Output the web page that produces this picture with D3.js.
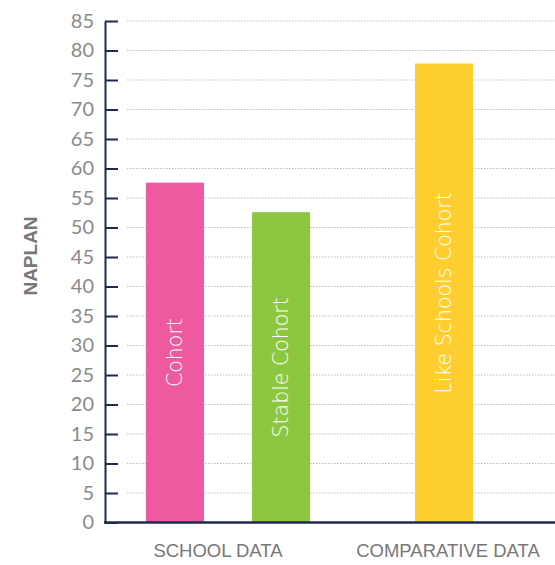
<!DOCTYPE html>
<html>
<head>
<meta charset="utf-8">
<script src="https://cdn.jsdelivr.net/npm/d3@7"></script>
<style>
  html, body { margin: 0; padding: 0; background: #fff; }
  svg { display: block; }
</style>
</head>
<body>
<svg id="chart" width="555" height="565"></svg>
<script>
// ---- data ----
const groups = ["SCHOOL DATA", "COMPARATIVE DATA"];
const series = ["Cohort", "Stable Cohort", "Like Schools Cohort"];
const seriesGroup = ["SCHOOL DATA", "SCHOOL DATA", "COMPARATIVE DATA"];
const values = [57.6, 52.6, 77.8];
const colors = ["#EE5A9F", "#8DC63F", "#FECE30"];
const yTickValues = [0, 5, 10, 15, 20, 25, 30, 35, 40, 45, 50, 55, 60, 65, 70, 75, 80, 85];
const yTitle = "NAPLAN";

// ---- layout ----
const svg = d3.select("#chart");
const axisX = 105, baseY = 522.5, topY = 21, rightX = 555;
const navy = "#1f2a50";

const y = d3.scaleLinear().domain([0, 85]).range([baseY, topY]);
const x0 = d3.scaleBand().domain(groups).range([103, 563]);

const innerScales = {};
groups.forEach(g => {
  const members = series.filter((s, i) => seriesGroup[i] === g);
  innerScales[g] = d3.scaleBand().domain(members).range([0, x0.bandwidth()])
    .paddingInner(0.453).paddingOuter(0.311).align(members.length > 1 ? 0.652 : 0.467);
});
const barW = d3.min(groups.map(g => innerScales[g].domain().length > 1 ? innerScales[g].bandwidth() : Infinity));
const barCenter = i => {
  const g = seriesGroup[i], sc = innerScales[g];
  return x0(g) + sc(series[i]) + sc.bandwidth() / 2;
};

// gridlines
svg.append("g").selectAll("line")
  .data(yTickValues.filter(v => v > 0))
  .join("line")
  .attr("x1", 127).attr("x2", rightX)
  .attr("y1", d => y(d)).attr("y2", d => y(d))
  .attr("stroke", "#bdbdbd").attr("stroke-width", 1)
  .attr("stroke-dasharray", "1.5,1.5");

// bars
const data = series.map((s, i) => ({ s, v: values[i], c: colors[i], i }));
svg.append("g").selectAll("rect")
  .data(data)
  .join("rect")
  .attr("x", d => barCenter(d.i) - barW / 2)
  .attr("width", barW)
  .attr("y", d => y(d.v))
  .attr("height", d => y(0) - y(d.v))
  .attr("fill", d => d.c);

// bar labels
svg.append("g").selectAll("text")
  .data(data)
  .join("text")
  .attr("transform", d => `translate(${barCenter(d.i)},${(y(d.v) + y(0)) / 2}) rotate(-90)`)
  .attr("text-anchor", "middle")
  .attr("dominant-baseline", "central")
  .attr("fill", "#fff")
  .attr("font-family", "'DejaVu Sans', sans-serif")
  .attr("font-weight", 200)
  .attr("font-size", 20.5)
  .text(d => d.s);

// y axis
const yAxis = d3.axisLeft(y).tickValues(yTickValues).tickSize(-13).tickSizeOuter(0).tickPadding(11);
const gy = svg.append("g").attr("transform", `translate(${axisX},0)`).call(yAxis);
gy.select(".domain").attr("stroke", navy).attr("stroke-width", 2);
gy.selectAll(".tick line").attr("stroke", navy).attr("stroke-width", 2);
gy.selectAll(".tick text")
  .attr("fill", "#8a8a8a")
  .attr("font-family", "Lato, sans-serif")
  .attr("font-size", 20);

// bottom baseline
svg.append("line")
  .attr("x1", axisX - 1).attr("x2", rightX)
  .attr("y1", y(0)).attr("y2", y(0))
  .attr("stroke", navy).attr("stroke-width", 2.5);

// group labels
svg.append("g").selectAll("text")
  .data(groups)
  .join("text")
  .attr("x", d => x0(d) + x0.bandwidth() / 2)
  .attr("y", 557)
  .attr("text-anchor", "middle")
  .attr("fill", "#777")
  .attr("font-family", "'Liberation Sans', Arial, sans-serif")
  .attr("font-size", 18.5)
  .text(d => d);

// y title
svg.append("text")
  .attr("transform", `translate(30,256) rotate(-90)`)
  .attr("text-anchor", "middle")
  .attr("dominant-baseline", "central")
  .attr("fill", "#777")
  .attr("font-family", "'Liberation Sans', Arial, sans-serif")
  .attr("font-weight", "bold")
  .attr("font-size", 19)
  .text(yTitle);
</script>
</body>
</html>
